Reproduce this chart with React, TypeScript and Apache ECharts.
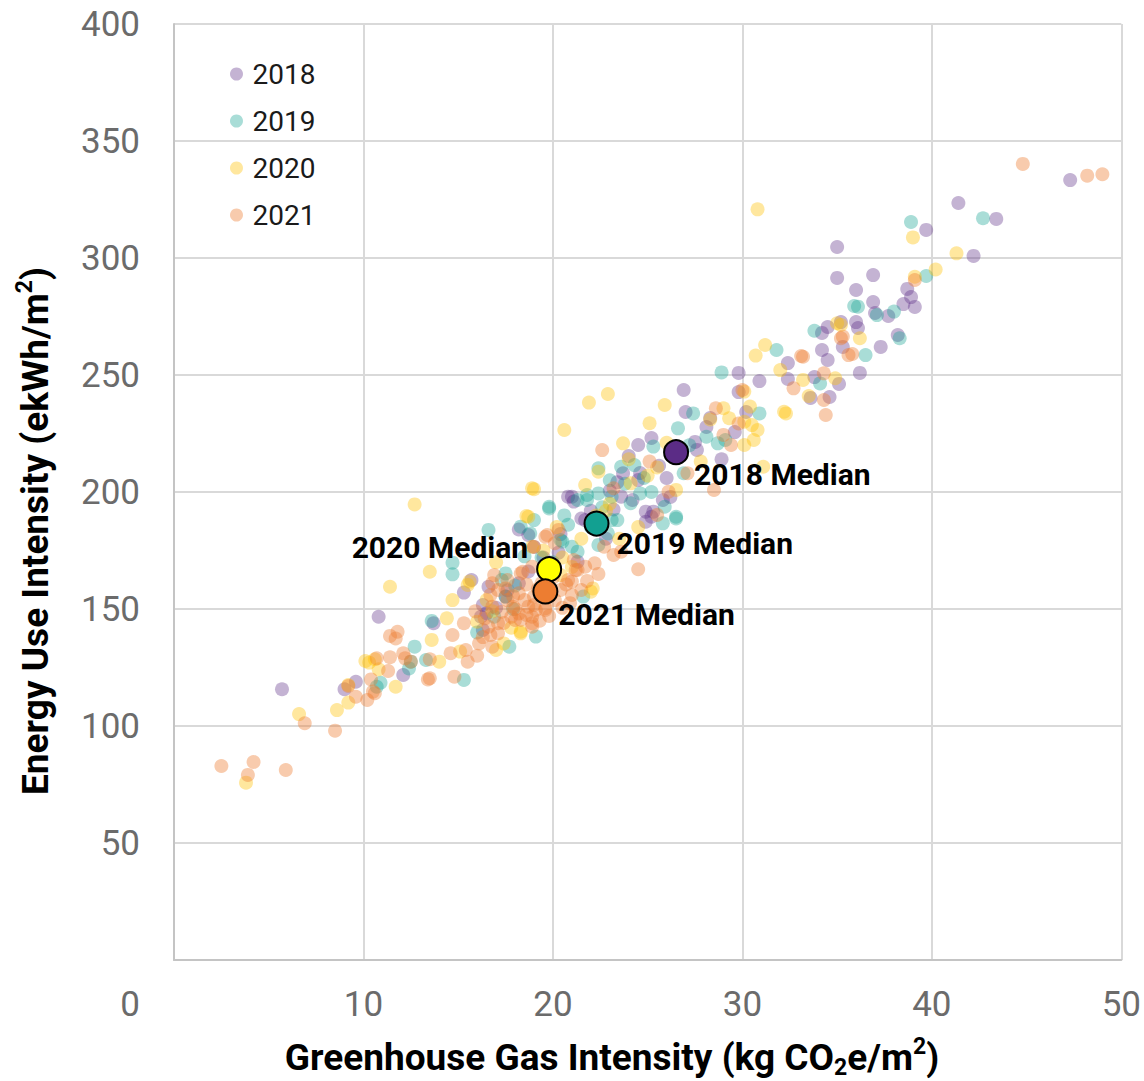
import React, { useEffect, useRef } from "react";
import * as echarts from "echarts";

const years = ["2018", "2019", "2020", "2021"];

const data2018: number[][] = [
  [47.3, 333.3], [41.4, 323.5], [43.4, 316.7], [39.7, 312.0], [42.2, 300.9], [35.0, 304.7], [35.0, 291.5],
  [36.9, 292.7], [36.0, 286.3], [36.9, 281.2], [38.7, 286.8], [38.9, 283.3], [39.1, 279.1], [38.5, 280.3],
  [37.0, 276.5], [37.7, 275.2], [38.2, 267.1], [36.0, 272.6], [36.1, 270.1], [35.2, 272.6], [34.5, 270.5],
  [34.2, 268.0], [34.2, 260.7], [34.5, 256.4], [35.3, 262.0], [37.3, 262.0], [32.4, 255.1], [30.9, 247.4],
  [32.4, 248.3], [33.8, 249.1], [36.2, 250.9], [35.1, 246.2], [34.6, 240.6], [33.6, 240.2], [29.8, 250.9],
  [29.8, 242.7], [26.9, 243.6], [27.0, 234.2], [28.1, 227.8], [30.2, 234.2], [29.6, 225.6], [25.2, 223.1],
  [24.5, 220.1], [27.5, 221.4], [24.0, 215.4], [28.9, 214.0], [25.6, 211.2], [23.7, 208.0], [24.6, 208.1],
  [26.2, 197.9], [28.3, 231.6], [23.4, 204.2], [24.5, 205.1], [23.6, 198.0], [24.2, 196.6], [21.0, 198.0],
  [21.1, 195.9], [24.9, 191.6], [25.2, 189.4], [25.8, 196.6], [18.2, 184.0], [18.7, 181.6], [20.3, 174.1],
  [21.3, 170.2], [21.7, 188.0], [24.9, 187.3], [15.3, 157.0], [15.7, 162.4], [16.6, 159.5], [16.5, 148.2],
  [17.5, 155.3], [20.8, 198.0], [21.5, 188.7], [25.3, 191.6], [18.2, 161.0], [16.2, 146.7], [10.8, 146.7],
  [12.1, 121.8], [9.0, 115.7], [9.6, 118.9], [5.7, 115.7], [13.7, 143.9], [16.3, 151.7], [16.3, 141.0],
  [19.5, 172.0], [20.0, 166.0], [22.8, 180.0], [23.2, 192.5], [17.6, 158.0], [19.0, 176.5],
  [23.0, 200.5], [22.0, 192.0], [26.0, 206.0], [27.6, 218.0], [20.4, 182.0], [18.7, 166.0], [17.0, 150.5],
];

const data2019: number[][] = [
  [38.9, 315.4], [42.7, 317.0], [39.7, 292.3], [36.1, 279.2], [38.0, 277.1], [37.1, 275.6], [33.8, 268.9],
  [38.3, 265.7], [36.5, 258.5], [31.8, 260.7], [34.1, 246.4], [28.9, 251.1], [27.4, 233.6], [30.9, 233.6],
  [26.6, 227.2], [35.9, 279.5], [28.7, 220.8], [25.3, 219.4], [28.1, 223.6], [26.9, 208.0], [29.1, 222.2],
  [19.8, 193.7], [22.4, 210.1], [23.6, 210.8], [24.3, 211.5], [23.1, 188.0], [25.8, 186.6], [26.5, 189.4],
  [18.3, 185.2], [19.0, 188.0], [21.8, 196.6], [20.5, 178.8], [21.3, 174.5], [21.8, 198.7], [22.4, 199.4],
  [21.3, 196.6], [23.1, 198.0], [23.4, 188.0], [22.9, 182.3], [22.4, 177.4], [24.1, 195.2], [24.6, 199.4],
  [25.9, 193.7], [26.5, 188.7], [19.1, 138.2], [17.7, 133.9], [17.5, 165.2], [21.6, 155.3], [14.7, 169.8],
  [14.7, 164.8], [16.6, 183.8], [16.9, 146.7], [17.5, 155.3], [17.3, 162.4], [20.4, 179.5], [21.0, 176.6],
  [18.8, 182.3], [15.3, 119.7], [12.7, 133.9], [12.5, 127.5], [12.4, 124.6], [10.9, 118.5], [10.7, 116.8],
  [13.3, 128.2], [13.6, 144.9], [20.0, 170.0], [18.5, 172.5], [22.0, 185.0], [23.8, 203.5], [20.8, 186.0],
  [17.9, 150.0], [19.8, 193.0],
  [23.0, 205.0], [24.8, 206.0], [25.2, 200.0], [27.2, 220.0], [20.6, 190.0], [19.4, 172.0], [18.0, 160.0],
  [16.0, 140.0], [22.6, 193.5],
];

const data2020: number[][] = [
  [30.8, 320.8], [39.0, 308.8], [39.1, 292.0], [41.3, 302.0], [40.2, 295.1], [35.2, 271.4], [36.2, 265.7],
  [31.2, 262.8], [30.7, 258.3], [32.0, 252.1], [33.2, 247.9], [34.9, 248.6], [33.5, 241.0], [32.3, 233.6],
  [22.9, 241.9], [25.9, 237.2], [25.1, 229.4], [23.7, 220.8], [21.9, 238.2], [20.6, 226.5], [19.0, 201.2],
  [12.7, 194.7], [14.7, 153.8], [32.2, 234.3], [31.1, 210.8], [30.1, 230.0], [22.0, 157.4], [24.1, 203.7],
  [30.4, 236.5], [30.6, 222.2], [18.6, 189.7], [15.5, 160.3], [29.0, 235.8], [30.1, 242.9], [30.5, 228.6],
  [30.8, 226.5], [30.1, 220.1], [26.5, 200.9], [29.3, 231.5], [35.0, 272.1], [22.4, 208.7], [18.9, 201.6],
  [21.7, 203.0], [18.7, 189.4], [22.1, 158.8], [18.3, 139.6], [20.4, 164.5], [11.4, 159.5], [13.5, 165.9],
  [14.4, 146.0], [15.6, 161.7], [11.7, 116.8], [8.6, 106.8], [9.2, 110.0], [9.2, 117.5], [10.1, 127.8],
  [10.3, 127.1], [10.8, 124.2], [10.6, 128.5], [13.6, 136.8], [14.0, 127.5], [15.1, 131.8], [17.0, 132.5],
  [17.4, 135.3], [16.0, 144.6], [16.5, 153.8], [18.3, 140.3], [18.9, 176.6], [3.8, 75.8], [6.6, 105.1],
  [20.5, 172.0], [19.5, 160.0], [21.0, 168.0], [23.5, 180.0], [17.0, 170.0], [22.8, 192.0], [24.5, 185.0],
  [25.0, 207.0],
  [22.3, 190.0], [23.0, 195.0], [25.5, 210.5], [27.8, 213.0], [28.3, 231.0], [26.0, 221.0], [24.0, 214.0],
  [21.5, 180.0], [19.5, 175.0], [16.8, 149.0], [17.8, 142.0], [20.2, 185.0],
];

const data2021: number[][] = [
  [44.8, 340.2], [48.2, 335.2], [49.0, 335.8], [39.1, 290.6], [35.3, 266.4], [35.8, 259.0], [33.2, 257.8],
  [32.7, 244.3], [34.3, 250.7], [34.3, 239.3], [34.4, 232.9], [28.6, 235.8], [29.8, 229.3], [30.0, 243.6],
  [29.0, 224.4], [29.4, 220.1], [28.5, 200.9], [27.1, 208.0], [22.6, 217.9], [25.1, 213.0], [23.2, 201.6],
  [24.5, 167.0], [23.6, 174.5], [25.5, 190.2], [26.1, 200.1], [22.7, 176.6], [23.2, 173.1], [21.0, 156.0],
  [19.6, 149.6], [19.0, 151.7], [20.1, 153.8], [20.4, 158.1], [20.8, 162.4], [21.3, 166.7], [21.7, 168.1],
  [22.2, 169.5], [21.1, 170.9], [20.1, 178.1], [19.6, 180.9], [20.3, 183.8], [19.0, 176.6], [18.9, 168.1],
  [18.3, 165.2], [17.6, 162.4], [17.1, 158.1], [16.8, 151.0], [17.3, 148.8], [17.8, 146.7], [18.3, 145.3],
  [18.9, 143.9], [16.6, 142.4], [17.1, 139.6], [16.8, 133.9], [12.5, 127.5], [13.4, 119.9], [14.8, 121.1],
  [14.7, 138.9], [14.6, 131.1], [15.4, 132.5], [15.5, 127.5], [15.3, 143.9], [16.1, 135.3], [16.7, 138.9],
  [16.4, 146.0], [17.1, 143.9], [16.7, 156.0], [16.8, 161.0], [16.9, 164.5], [17.6, 153.8], [17.9, 151.0],
  [18.2, 148.1], [18.7, 151.0], [18.9, 146.7], [18.0, 145.3], [18.5, 153.8], [19.0, 155.3], [19.1, 149.6],
  [19.6, 150.3], [17.5, 158.8], [18.2, 156.7], [21.0, 161.7], [21.2, 166.7], [21.5, 158.1], [18.9, 142.4],
  [19.7, 181.6], [19.4, 161.0], [18.4, 165.9], [2.5, 82.9], [4.2, 84.6], [3.9, 79.1], [5.9, 81.2],
  [6.9, 101.2], [8.5, 98.0], [9.6, 112.5], [10.2, 111.1], [10.4, 119.9], [10.5, 114.7], [10.7, 128.9],
  [11.4, 129.4], [11.3, 123.5], [11.4, 138.5], [11.8, 140.3], [11.7, 137.4], [12.1, 131.1], [12.2, 128.9],
  [13.5, 120.4], [13.5, 128.5], [9.2, 117.1], [10.6, 114.0], [33.1, 258.1], [35.6, 258.5], [35.2, 265.7],
  [18.0, 150.0], [18.6, 147.5], [19.3, 145.0], [19.8, 147.0], [20.5, 150.5], [20.9, 152.5], [19.9, 156.0],
  [20.7, 160.5], [17.4, 144.0], [16.3, 138.0], [17.9, 155.5], [19.2, 158.5], [20.0, 163.5], [21.8, 162.0],
  [22.4, 165.0], [18.6, 160.5], [15.9, 149.0], [16.0, 130.0],
];

const medianLabels = ["2018 Median", "2019 Median", "2020 Median", "2021 Median"];
const medianX = [26.5, 22.3, 19.8, 19.6];
const medianY = [217.0, 186.5, 167.0, 157.5];

const xMin = 0, xMax = 50, xStep = 10;
const yMin = 0, yMax = 400, yStep = 50;

const pointColors = [
  "rgba(91,44,134,0.36)",
  "rgba(18,160,145,0.36)",
  "rgba(255,192,0,0.38)",
  "rgba(237,125,49,0.4)",
];
const medianColors = ["#5b2c86", "#12a091", "#ffff00", "#ed7d31"];
const labelPos: number[][] = [[31, 35], [33, 33], [-8, -9], [26, 36]];
const labelAlign = ["left", "left", "right", "left"];

const FONT = "Roboto, 'Noto Sans', sans-serif";

export default function App() {
  const ref = useRef<HTMLDivElement>(null);
  useEffect(() => {
    if (!ref.current) return;
    const chart = echarts.init(ref.current, undefined, { renderer: "svg" });
    const allData = [data2018, data2019, data2020, data2021];
    const scatterSeries = years.map((y, i) => ({
      name: y,
      type: "scatter",
      data: allData[i],
      symbol: "circle",
      symbolSize: 14,
      itemStyle: { color: pointColors[i], opacity: 1 },
      emphasis: { disabled: true },
      z: 2,
    }));
    const medianSeries = {
      name: "Median",
      type: "scatter",
      z: 5,
      symbol: "circle",
      symbolSize: 24,
      emphasis: { disabled: true },
      data: medianX.map((x, i) => ({
        value: [x, medianY[i]],
        itemStyle: { color: medianColors[i], borderColor: "#000", borderWidth: 2, opacity: 1 },
        label: {
          show: true,
          formatter: medianLabels[i],
          position: labelPos[i],
          align: labelAlign[i],
          verticalAlign: "middle",
          fontFamily: FONT,
          fontSize: 30,
          fontWeight: "bold",
          color: "#000",
        },
      })),
    };
    const titleRich = {
      a: { fontFamily: FONT, fontSize: 37, fontWeight: "bold", color: "#000", lineHeight: 44 },
      sup: { fontFamily: FONT, fontSize: 23, fontWeight: "bold", color: "#000", lineHeight: 24, verticalAlign: "top" },
      sub: { fontFamily: FONT, fontSize: 23, fontWeight: "bold", color: "#000", lineHeight: 24, verticalAlign: "bottom" },
    };
    chart.setOption({
      animation: false,
      backgroundColor: "#fff",
      grid: { left: 174, right: 17, top: 24, bottom: 121, containLabel: false },
      legend: {
        data: years,
        orient: "vertical",
        left: 225,
        top: 55,
        itemWidth: 22,
        itemHeight: 13,
        itemGap: 19,
        icon: "circle",
        selectedMode: false,
        textStyle: { fontFamily: FONT, fontSize: 28, color: "#1a1a1a", lineHeight: 28 },
      },
      xAxis: {
        type: "value",
        min: xMin,
        max: xMax,
        interval: xStep,
        axisLine: { show: true, lineStyle: { color: "#c4c4c4", width: 2 } },
        axisTick: { show: false },
        splitLine: { show: true, lineStyle: { color: "#d9d9d9", width: 2 } },
        axisLabel: { showMinLabel: false, margin: 27, fontFamily: FONT, fontSize: 35, color: "#6b6b6b" },
      },
      yAxis: {
        type: "value",
        min: yMin,
        max: yMax,
        interval: yStep,
        axisLine: { show: true, lineStyle: { color: "#c4c4c4", width: 2 } },
        axisTick: { show: false },
        splitLine: { show: true, lineStyle: { color: "#d9d9d9", width: 2 } },
        axisLabel: { showMinLabel: false, margin: 34, fontFamily: FONT, fontSize: 35, color: "#6b6b6b" },
      },
      graphic: [
        {
          type: "text",
          x: 130,
          y: 1004,
          style: { text: "0", fontFamily: FONT, fontSize: 35, fill: "#6b6b6b", align: "center", verticalAlign: "middle" },
        },
        {
          type: "text",
          x: 612,
          y: 1057,
          style: {
            text: "{a|Greenhouse Gas Intensity (kg CO}{sub|2}{a|e/m}{sup|2}{a|)}",
            rich: titleRich,
            align: "center",
            verticalAlign: "middle",
          },
        },
        {
          type: "text",
          x: 35,
          y: 531,
          rotation: Math.PI / 2,
          style: {
            text: "{a|Energy Use Intensity (ekWh/m}{sup|2}{a|)}",
            rich: titleRich,
            align: "center",
            verticalAlign: "middle",
          },
        },
      ],
      series: [...scatterSeries, medianSeries],
    });
    return () => chart.dispose();
  }, []);
  return (
    <div
      ref={ref}
      style={{ position: "absolute", left: 0, top: 0, width: 1144, height: 1081 }}
    />
  );
}
